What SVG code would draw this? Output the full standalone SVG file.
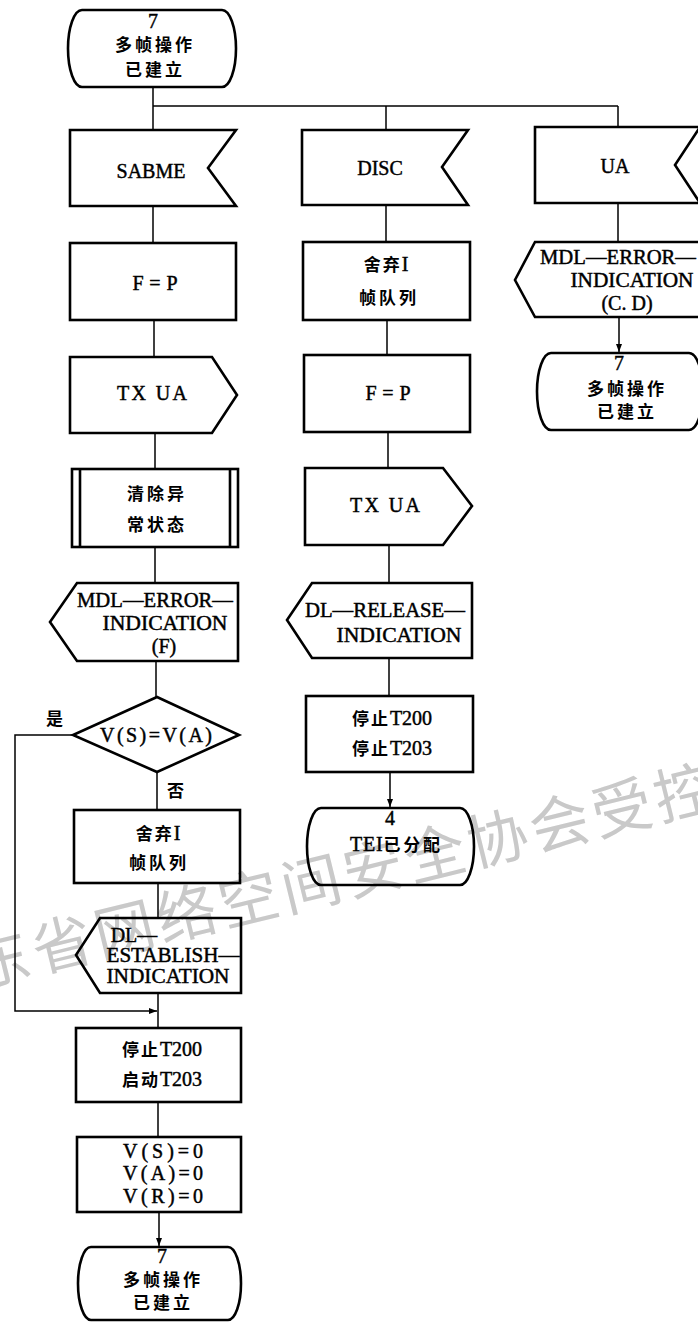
<svg xmlns="http://www.w3.org/2000/svg" width="698" height="1343" viewBox="0 0 698 1343">
<defs>
<style>
.s{fill:none;stroke:#000;stroke-width:2.6;stroke-linejoin:miter}
.c{fill:none;stroke:#000;stroke-width:1.5}
.t{font-family:"Liberation Serif","Noto Sans CJK SC",serif;font-size:20px;fill:#000;stroke:#000;stroke-width:0.45;text-anchor:middle}
.z{font-family:"Noto Sans CJK SC","Liberation Serif",sans-serif;font-size:17px;font-weight:bold;letter-spacing:3px;fill:#000;text-anchor:middle}
.zz{font-family:"Noto Sans CJK SC",sans-serif;font-size:17px;font-weight:bold;letter-spacing:2px;stroke:none}
.w{font-family:"Noto Sans CJK SC",sans-serif;font-size:60px;fill:#c9c9c9;letter-spacing:4px}
</style>
<marker id="ar" viewBox="0 0 8 6" refX="8" refY="3" markerWidth="8" markerHeight="6" markerUnits="userSpaceOnUse" orient="auto">
<path d="M0,0 L8,3 L0,6 Z" fill="#000"/>
</marker>
</defs>
<rect width="698" height="1343" fill="#fff"/>
<text class="w" x="-24" y="988" transform="rotate(-13.7 -24 988)">东省网络空间安全协会受控</text>

<g id="connectors">
<path class="c" d="M153,87 V130"/>
<path class="c" d="M153,106 H618"/>
<path class="c" d="M386,106 V130"/>
<path class="c" d="M618,106 V127"/>
<path class="c" d="M153,206 V243"/>
<path class="c" d="M154,320 V357"/>
<path class="c" d="M155,433 V469"/>
<path class="c" d="M155,547 V583"/>
<path class="c" d="M156,661 V697"/>
<path class="c" d="M157,772 V810"/>
<path class="c" d="M158,883 V918"/>
<path class="c" d="M158,993 V1028"/>
<path class="c" d="M73,735 H15 V1011 H157" marker-end="url(#ar)"/>
<path class="c" d="M158,1102 V1137"/>
<path class="c" d="M159,1212 V1246" marker-end="url(#ar)"/>
<path class="c" d="M386,205 V242"/>
<path class="c" d="M387,320 V355"/>
<path class="c" d="M388,432 V468"/>
<path class="c" d="M389,545 V583"/>
<path class="c" d="M389,658 V696"/>
<path class="c" d="M390,772 V807" marker-end="url(#ar)"/>
<path class="c" d="M618,203 V242"/>
<path class="c" d="M619,317 V352" marker-end="url(#ar)"/>
</g>

<g id="n_start">
<path class="s" d="M82,10 H222 A14,38.5 0 0 1 222,87 H82 A14,38.5 0 0 1 82,10 Z"/>
<text class="t" x="153" y="28" font-size="18">7</text>
<text class="z" x="155" y="51">多帧操作</text>
<text class="z" x="155" y="76">已建立</text>
</g>

<g id="n_sabme">
<path class="s" d="M70,130 H236 L208,168 L236,206 H70 Z"/>
<text class="t" x="151" y="178">SABME</text>
</g>
<g id="n_fp1">
<rect class="s" x="70" y="243" width="166" height="77"/>
<text class="t" x="155" y="290" textLength="45" lengthAdjust="spacing">F=P</text>
</g>
<g id="n_txua1">
<path class="s" d="M70,357 H212 L237,395 L212,433 H70 Z"/>
<text class="t" x="152" y="400" textLength="70" lengthAdjust="spacing">TX UA</text>
</g>
<g id="n_clear">
<rect class="s" x="72" y="469" width="166" height="78"/>
<path class="s" d="M80,469 V547 M230,469 V547"/>
<text class="z" x="157" y="500">清除异</text>
<text class="z" x="157" y="531">常状态</text>
</g>
<g id="n_mdlf">
<path class="s" d="M77,583 H238 V661 H77 L50,622 Z"/>
<text class="t" x="155" y="607" textLength="156" lengthAdjust="spacingAndGlyphs">MDL—ERROR—</text>
<text class="t" x="165" y="630" textLength="125" lengthAdjust="spacingAndGlyphs">INDICATION</text>
<text class="t" x="164" y="653">(F)</text>
</g>
<g id="n_dec">
<path class="s" d="M157,697 L239,735 L157,772 L73,735 Z"/>
<text class="t" x="156" y="742" textLength="112" lengthAdjust="spacing">V(S)=V(A)</text>
<text class="z" x="56" y="725">是</text>
<text class="z" x="177" y="797">否</text>
</g>
<g id="n_discard1">
<rect class="s" x="74" y="810" width="166" height="73"/>
<text class="t" x="158" y="840"><tspan class="zz">舍弃</tspan>I</text>
<text class="z" x="159" y="869">帧队列</text>
</g>
<g id="n_dlest">
<path class="s" d="M100,918 H241 V993 H100 L76,955 Z"/>
<text class="t" x="134" y="942">DL—</text>
<text class="t" x="173" y="962" textLength="133" lengthAdjust="spacingAndGlyphs">ESTABLISH—</text>
<text class="t" x="168" y="983" textLength="123" lengthAdjust="spacingAndGlyphs">INDICATION</text>
</g>
<g id="n_timers1">
<rect class="s" x="76" y="1028" width="165" height="74"/>
<text class="t" x="162" y="1056"><tspan class="zz">停止</tspan>T200</text>
<text class="t" x="162" y="1086"><tspan class="zz">启动</tspan>T203</text>
</g>
<g id="n_vars">
<rect class="s" x="77" y="1137" width="164" height="75"/>
<text class="t" x="163" y="1158" font-size="21" textLength="80" lengthAdjust="spacing">V(S)=0</text>
<text class="t" x="163" y="1180" font-size="21" textLength="80" lengthAdjust="spacing">V(A)=0</text>
<text class="t" x="163" y="1203" font-size="21" textLength="80" lengthAdjust="spacing">V(R)=0</text>
</g>
<g id="n_end1">
<path class="s" d="M91,1247 H228 A13,36.5 0 0 1 228,1320 H91 A13,36.5 0 0 1 91,1247 Z"/>
<text class="t" x="162" y="1263" font-size="18">7</text>
<text class="z" x="163" y="1286">多帧操作</text>
<text class="z" x="163" y="1309">已建立</text>
</g>

<g id="n_disc">
<path class="s" d="M302,130 H468 L442,167 L468,205 H302 Z"/>
<text class="t" x="380" y="175">DISC</text>
</g>
<g id="n_discard2">
<rect class="s" x="303" y="242" width="167" height="78"/>
<text class="t" x="386" y="271"><tspan class="zz">舍弃</tspan>I</text>
<text class="z" x="389" y="304">帧队列</text>
</g>
<g id="n_fp2">
<rect class="s" x="304" y="355" width="166" height="77"/>
<text class="t" x="388" y="400" textLength="45" lengthAdjust="spacing">F=P</text>
</g>
<g id="n_txua2">
<path class="s" d="M305,468 H443 L472,506 L443,545 H305 Z"/>
<text class="t" x="385" y="512" textLength="70" lengthAdjust="spacing">TX UA</text>
</g>
<g id="n_dlrel">
<path class="s" d="M312,583 H472 V658 H312 L287,620 Z"/>
<text class="t" x="385" y="617" textLength="160" lengthAdjust="spacingAndGlyphs">DL—RELEASE—</text>
<text class="t" x="399" y="642" textLength="125" lengthAdjust="spacingAndGlyphs">INDICATION</text>
</g>
<g id="n_timers2">
<rect class="s" x="306" y="696" width="167" height="76"/>
<text class="t" x="392" y="725"><tspan class="zz">停止</tspan>T200</text>
<text class="t" x="392" y="755"><tspan class="zz">停止</tspan>T203</text>
</g>
<g id="n_end2">
<path class="s" d="M321,808 H460 A14,38.5 0 0 1 460,885 H321 A14,38.5 0 0 1 321,808 Z"/>
<text class="t" x="390" y="825" font-size="16">4</text>
<text class="t" x="396" y="851" textLength="92" lengthAdjust="spacing">TEI<tspan class="zz">已分配</tspan></text>
</g>

<g id="n_ua">
<path class="s" d="M535,127 H700 L675,165 L700,203 H535 Z"/>
<text class="t" x="615" y="173">UA</text>
</g>
<g id="n_mdlcd">
<path class="s" d="M535,242 H712 V317 H535 L515,280 Z"/>
<text class="t" x="618" y="264" textLength="156" lengthAdjust="spacingAndGlyphs">MDL—ERROR—</text>
<text class="t" x="632" y="287" textLength="123" lengthAdjust="spacingAndGlyphs">INDICATION</text>
<text class="t" x="627" y="310">(C. D)</text>
</g>
<g id="n_end3">
<path class="s" d="M551,353 H689 A14,38.5 0 0 1 689,430 H551 A14,38.5 0 0 1 551,353 Z"/>
<text class="t" x="619" y="370" font-size="16">7</text>
<text class="z" x="627" y="395" font-size="15">多帧操作</text>
<text class="z" x="627" y="418" font-size="15">已建立</text>
</g>
</svg>
